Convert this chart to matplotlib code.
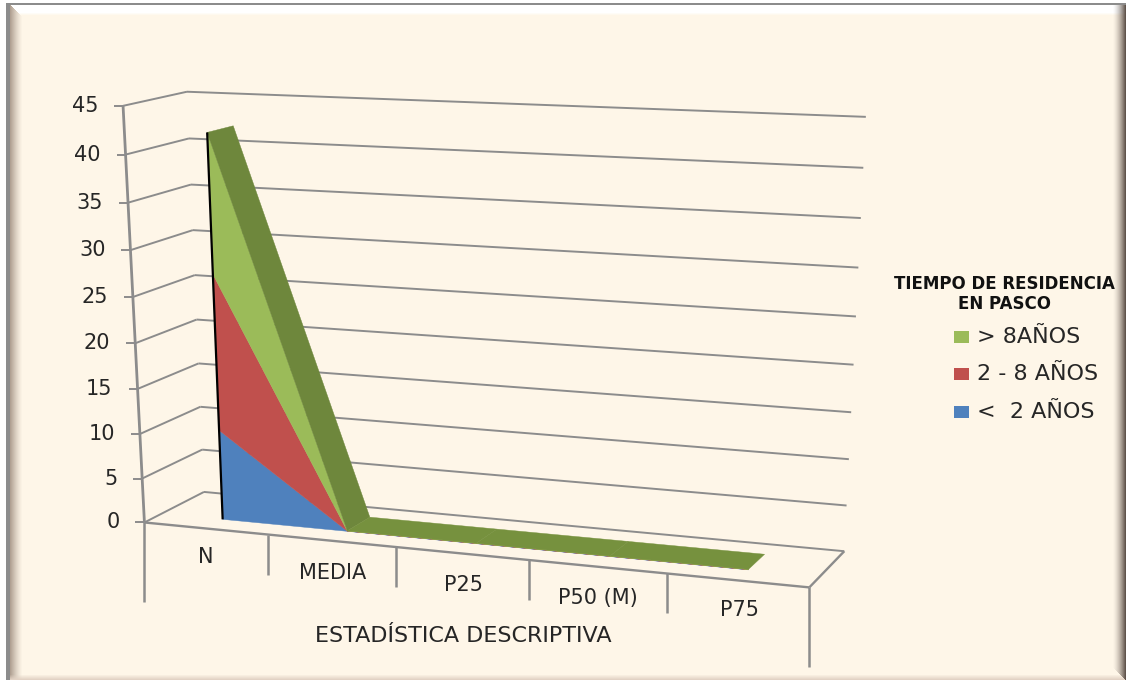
import numpy as np
import matplotlib
matplotlib.use('Agg')
import matplotlib.pyplot as plt
from matplotlib.patches import Polygon, Rectangle

# Chart values
categories = ['N', 'MEDIA', 'P25', 'P50 (M)', 'P75']
menor_2 = [10.1, 0.02, 0.02, 0.02, 0.02]
de_2_a_8 = [17.1, 0.02, 0.02, 0.02, 0.02]
mayor_8 = [14.9, 0.02, 0.02, 0.02, 0.02]
y_ticks = list(range(0, 50, 5))

WIDTH, HEIGHT = 1126, 680
CREAM = np.array([254, 246, 232]) / 255
GRID = '#8c8c8c'
TEXT = '#262626'

# Depth range of the series slab inside the floor
Z_FRONT, Z_BACK = 0.285, 0.71

# Camera for the 3D box: (category pos, value, depth) -> pixel, fitted on known box corners
world_pts = [(0, 0, 0), (0, 45, 0), (0, 20, 0), (0, 0, 1), (0, 45, 1), (0, 10, 1),
             (5, 0, 0), (5, 0, 1), (5, 45, 1), (5, 5, 1)]
pixel_pts = [(145, 523), (123, 106), (135, 342), (204, 492), (187, 92), (200, 407),
             (809, 588), (844, 551), (866, 117), (847, 505)]

rows, rhs = [], []
for (x, y, z), (u, v) in zip(world_pts, pixel_pts):
    rows.append([x, y, z, 1, 0, 0, 0, 0, -u * x, -u * y, -u * z])
    rows.append([0, 0, 0, 0, x, y, z, 1, -v * x, -v * y, -v * z])
    rhs += [u, v]
cam = np.linalg.lstsq(np.array(rows, float), np.array(rhs, float), rcond=None)[0]
cam = np.append(cam, 1.0).reshape(3, 4)


def project(x, y, z):
    p = cam @ np.array([x, y, z, 1.0])
    return p[0] / p[2], p[1] / p[2]


# Slide background with its bevelled border
yy, xx = np.mgrid[0:HEIGHT, 0:WIDTH]
img = np.ones((HEIGHT, WIDTH, 3)) * CREAM
d_left, d_top = xx - 10, yy - 5
d_right, d_bottom = WIDTH - 1 - xx, HEIGHT - 1 - yy


def blend(mask, color, amount):
    amount = np.clip(amount, 0, 1)[..., None]
    new = img * (1 - amount) + np.array(color) / 255 * amount
    img[mask] = new[mask]


blend((d_left < 12) & (d_left <= d_top), (176, 160, 146), (1 - d_left / 12) ** 1.3)
blend((d_top < 10) & (d_top < d_left), (255, 255, 255), np.where(d_top < 7, 1.0, (10 - d_top) / 3))
blend((d_bottom < 5) & (d_bottom < d_right), (226, 210, 196), 1 - d_bottom / 5)
blend((d_right < 13) & (d_right <= d_bottom), (96, 84, 76), (1 - d_right / 13) ** 1.6)
img[:, 6:10] = 0.55
img[3:5, 6:] = 0.55
img[:3] = 1.0
img[:, :6] = 1.0

fig = plt.figure(figsize=(WIDTH / 100, HEIGHT / 100), dpi=100)
ax = fig.add_axes([0, 0, 1, 1])
ax.imshow(img, extent=(0, WIDTH, HEIGHT, 0), aspect='auto', interpolation='nearest', zorder=0)
ax.set_xlim(0, WIDTH)
ax.set_ylim(HEIGHT, 0)
ax.axis('off')


def line(a, b, lw=1.4, color=GRID, zorder=1):
    ax.plot([a[0], b[0]], [a[1], b[1]], color=color, lw=lw, solid_capstyle='butt', zorder=zorder)


# Walls: gridlines on the left and back planes, ticks and labels on the value axis
n_cat = len(categories)
for tick in y_ticks:
    front = project(0, tick, 0)
    corner = project(0, tick, 1)
    line(front, corner)
    line(corner, project(n_cat, tick, 1))
    line((front[0] - 9, front[1]), front)
    ax.text(front[0] - 25, front[1], str(tick), ha='right', va='center',
            fontsize=15, color=TEXT, zorder=3)
line(project(0, 0, 0), project(0, 45, 0), lw=2)

# Floor outline and category separators
line(project(0, 0, 0), project(n_cat, 0, 0), lw=1.7)
line(project(n_cat, 0, 0), project(n_cat, 0, 1), lw=1.7)
for i in range(n_cat + 1):
    px, py = project(i, 0, 0)
    drop = 80 if i in (0, n_cat) else 40
    line((px, py), (px, py + drop), lw=1.8)

# Stacked area front faces
pos = np.arange(n_cat) + 0.5
levels = np.cumsum([menor_2, de_2_a_8, mayor_8], axis=0)
colors = ['#4f81bd', '#c0504d', '#9bbb59']
bottom = np.zeros(n_cat)
for top, col in zip(levels, colors):
    upper = [project(p, t, Z_FRONT) for p, t in zip(pos, top)]
    lower = [project(p, b, Z_FRONT) for p, b in zip(pos, bottom)]
    ax.add_patch(Polygon(upper + lower[::-1], closed=True, fc=col, ec=col, lw=0.3, zorder=2))
    bottom = top

# Top surface of the stack, darker on the steep part
top = levels[-1]
for i in range(n_cat - 1):
    quad = [project(pos[i], top[i], Z_FRONT), project(pos[i], top[i], Z_BACK),
            project(pos[i + 1], top[i + 1], Z_BACK), project(pos[i + 1], top[i + 1], Z_FRONT)]
    col = '#6e873c' if i == 0 else '#76913e'
    ax.add_patch(Polygon(quad, closed=True, fc=col, ec=col, lw=0.3, zorder=2))

# Dark edge of the first category
line(project(pos[0], 0, Z_FRONT), project(pos[0], top[0], Z_FRONT), lw=1.6, color='black', zorder=2.5)

# Category labels and axis title
label_xy = [(206, 557), (333, 573), (464, 585), (598, 598), (739, 610)]
for name, (lx, ly) in zip(categories, label_xy):
    ax.text(lx, ly, name, ha='center', va='center', fontsize=15, color=TEXT, zorder=3)
ax.text(463, 636, 'ESTADÍSTICA DESCRIPTIVA', ha='center', va='center', fontsize=16, color=TEXT, zorder=3)

# Legend
ax.text(1004, 294, 'TIEMPO DE RESIDENCIA\nEN PASCO', ha='center', va='center', fontsize=12,
        fontweight='bold', color='#111111', linespacing=1.15, zorder=3)
legend_labels = ['> 8AÑOS', '2 - 8 AÑOS', '<  2 AÑOS']
legend_y = [337, 374, 412]
for name, col, ly in zip(legend_labels, colors[::-1], legend_y):
    ax.add_patch(Rectangle((954, ly - 6), 15, 12, fc=col, ec='none', zorder=3))
    ax.text(977, ly, name, ha='left', va='center', fontsize=16, color=TEXT, zorder=3)

plt.savefig('out.png', dpi=100)
